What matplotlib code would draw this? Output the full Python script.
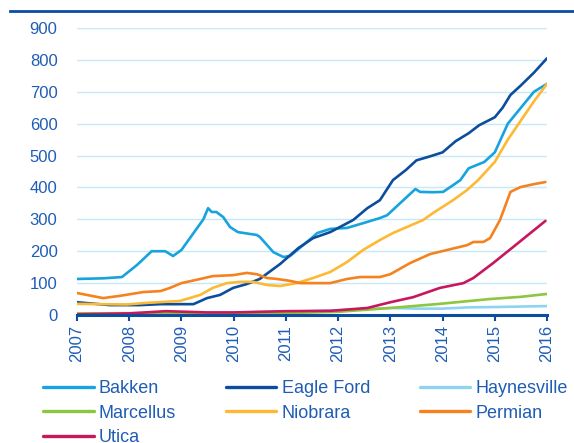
import numpy as np
import matplotlib
matplotlib.use("Agg")
import matplotlib.pyplot as plt
from matplotlib.lines import Line2D

plt.rcParams['font.family'] = ['Liberation Sans', 'DejaVu Sans']

# values (x = decimal year)
bakken_x = [2007.0, 2007.5, 2007.86, 2008.15, 2008.43, 2008.69, 2008.84, 2009.0, 2009.42, 2009.51,
            2009.58, 2009.67, 2009.8, 2009.93, 2010.08, 2010.44, 2010.5, 2010.76, 2010.95, 2011.08,
            2011.52, 2011.6, 2011.85, 2012.17, 2012.48, 2012.8, 2012.94, 2013.19, 2013.48, 2013.57,
            2013.82, 2014.01, 2014.2, 2014.34, 2014.5, 2014.8, 2015.0, 2015.25, 2015.5, 2015.75, 2016.0]
bakken_y = [113, 115, 119, 157, 200, 200, 185, 204, 300, 335,
            323, 323, 307, 276, 260, 251, 245, 197, 182, 185,
            245, 257, 270, 273, 288, 304, 313, 351, 395, 386,
            385, 386, 407, 423, 460, 480, 510, 600, 650, 700, 725]

eagle_x = [2007.0, 2007.63, 2008.2, 2008.6, 2009.23, 2009.49, 2009.74, 2009.99, 2010.25, 2010.5,
           2010.89, 2011.24, 2011.52, 2011.85, 2012.29, 2012.56, 2012.8, 2013.05, 2013.3, 2013.5,
           2013.75, 2014.0, 2014.25, 2014.5, 2014.7, 2015.0, 2015.15, 2015.3, 2015.5, 2015.75, 2016.0]
eagle_y = [40, 31, 31, 34, 34, 53, 63, 85, 97, 113,
           160, 210, 241, 260, 298, 335, 360, 423, 455, 485,
           497, 510, 545, 570, 595, 620, 650, 690, 720, 760, 805]

hayn_x = [2007.0, 2008.0, 2009.0, 2010.0, 2011.0, 2012.0, 2013.0, 2013.5, 2014.0, 2014.5, 2015.0, 2016.0]
hayn_y = [5, 6, 8, 8, 10, 15, 22, 20, 20, 24, 25, 28]

marc_x = [2007.0, 2008.0, 2009.0, 2010.0, 2011.0, 2012.0, 2013.0, 2013.95, 2014.9, 2015.5, 2016.0]
marc_y = [5, 5, 5, 5, 6, 10, 22, 35, 50, 57, 66]

niob_x = [2007.0, 2007.95, 2008.34, 2008.97, 2009.36, 2009.6, 2009.87, 2010.12, 2010.37, 2010.64,
          2010.89, 2011.21, 2011.52, 2011.85, 2012.17, 2012.48, 2012.8, 2013.05, 2013.63, 2013.82,
          2014.2, 2014.47, 2014.68, 2015.0, 2015.25, 2015.5, 2015.75, 2016.0]
niob_y = [35, 33, 38, 44, 63, 85, 100, 104, 104, 94,
          91, 100, 116, 135, 166, 204, 235, 257, 298, 320,
          360, 392, 423, 480, 550, 610, 670, 725]

perm_x = [2007.0, 2007.5, 2007.82, 2008.27, 2008.6, 2008.78, 2009.0, 2009.36, 2009.6, 2009.99,
          2010.25, 2010.44, 2010.64, 2010.83, 2011.08, 2011.27, 2011.52, 2011.85, 2012.17, 2012.42,
          2012.8, 2013.0, 2013.38, 2013.76, 2014.09, 2014.47, 2014.59, 2014.78, 2014.91, 2015.1,
          2015.3, 2015.49, 2015.74, 2015.97]
perm_y = [69, 53, 60, 72, 75, 85, 100, 113, 122, 125,
          132, 128, 116, 113, 107, 100, 100, 100, 113, 119,
          119, 128, 163, 191, 204, 219, 229, 229, 241, 298,
          386, 401, 410, 417]

utica_x = [2007.0, 2008.0, 2008.7, 2009.5, 2010.0, 2011.0, 2011.85, 2012.56, 2013.0, 2013.44,
           2013.95, 2014.4, 2014.59, 2014.97, 2015.35, 2015.97]
utica_y = [2, 5, 12, 8, 8, 12, 13, 22, 40, 56,
           85, 100, 116, 163, 213, 295]

years = list(range(2007, 2017))
yticks = list(range(0, 1000, 100))

series = [
    ("Bakken", bakken_x, bakken_y, "#17a3de"),
    ("Eagle Ford", eagle_x, eagle_y, "#0c4d9e"),
    ("Haynesville", hayn_x, hayn_y, "#8ed4f2"),
    ("Marcellus", marc_x, marc_y, "#8dc63f"),
    ("Niobrara", niob_x, niob_y, "#fdb933"),
    ("Permian", perm_x, perm_y, "#f5821f"),
    ("Utica", utica_x, utica_y, "#c8175d"),
]

text_blue = "#1f5db5"
axis_blue = "#0c4d9e"

fig = plt.figure(figsize=(5.74, 4.43), dpi=100)
ax = fig.add_axes([77/574, 1 - 315/443, 470/574, 287/443])

lines = {}
for name, x, y, c in series:
    ln, = ax.plot(x, y, color=c, lw=1.9, label=name, solid_capstyle='round')
    lines[name] = ln

ax.set_xlim(2007, 2016)
ax.set_ylim(0, 900)
ax.set_xticks(years)
ax.set_xticklabels([str(y) for y in years], rotation=90, color=text_blue, fontsize=12)
ax.set_yticks(yticks)
ax.set_yticklabels([str(v) for v in yticks], color=text_blue, fontsize=12)
ax.grid(axis='y', color='#c6e9f8', lw=1.0)
ax.set_axisbelow(True)
for s in ['top', 'right', 'left']:
    ax.spines[s].set_visible(False)
ax.spines['bottom'].set_color(axis_blue)
ax.spines['bottom'].set_linewidth(2.2)
ax.tick_params(axis='y', length=0, pad=14)
ax.tick_params(axis='x', length=4, width=1.5, color=axis_blue, pad=3)

# legend in row order (matplotlib fills columns first)
order = ["Bakken", "Marcellus", "Utica", "Eagle Ford", "Niobrara", "Haynesville", "Permian"]
leg = fig.legend([lines[n] for n in order], order, ncol=3, loc='upper left',
                 bbox_to_anchor=(43/574, 1 - 380/443), frameon=False, fontsize=13,
                 handlelength=2.8, handletextpad=0.3, columnspacing=2.75, labelspacing=0.42,
                 borderaxespad=0, borderpad=0)
for t in leg.get_texts():
    t.set_color(text_blue)
for h in leg.get_lines():
    h.set_linewidth(2.4)

# rule at the top
fig.add_artist(Line2D([10/574, 1], [1 - 11/443, 1 - 11/443], color="#0a4ea3", lw=2.0))

fig.savefig("out.png", dpi=100)
